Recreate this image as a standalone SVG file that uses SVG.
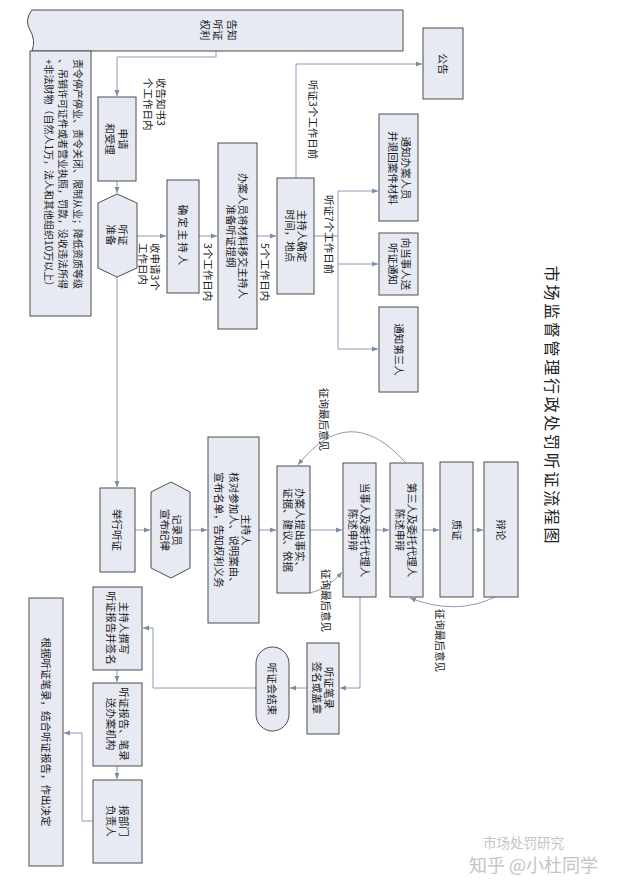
<svg xmlns="http://www.w3.org/2000/svg" width="620" height="890" viewBox="0 0 620 890">
<defs>
<marker id="ah" markerUnits="userSpaceOnUse" markerWidth="6" markerHeight="6" refX="6" refY="3" orient="auto">
<path d="M0,0.5 L6,3 L0,5.5 z" fill="#7d8ca8"/>
</marker>
<style>
.b{fill:#e7eaf3;stroke:#4d4d4d;stroke-width:1}
.t{font-family:"Noto Sans CJK SC","Liberation Sans",sans-serif;font-size:10.5px;fill:#1c1c1c;text-anchor:middle;dominant-baseline:central}
.l{font-family:"Noto Sans CJK SC","Liberation Sans",sans-serif;font-size:10.5px;fill:#1c1c1c;text-anchor:start;dominant-baseline:central}
.c{fill:none;stroke:#8b9ab4;stroke-width:1}
.a{marker-end:url(#ah)}
</style>
</defs>
<rect width="620" height="890" fill="#ffffff"/>
<g transform="translate(620,0) rotate(90)">
<text x="406" y="67" style="font-family:'Noto Sans CJK SC',sans-serif;font-size:16px;letter-spacing:2.7px;fill:#222;text-anchor:middle;dominant-baseline:central">市场监督管理行政处罚听证流程图</text>

<g id="connectors">
<path class="c a" d="M51,404 H57 V503 H96"/>
<path class="c a" d="M181,503 H193"/>
<path class="c a" d="M236,483 V454"/>
<path class="c a" d="M236,421 V403"/>
<path class="c a" d="M236,363 V344"/>
<path class="c a" d="M178,324 H64 V198"/>
<path class="c" d="M236,306 V282 M191,282 H349"/>
<path class="c a" d="M191,282 V242"/>
<path class="c a" d="M264,282 V242"/>
<path class="c a" d="M349,282 V242"/>
<path class="c a" d="M277,503 H487"/>
<path class="c a" d="M530,485 V470"/>
<path class="c a" d="M530,430 V413"/>
<path class="c a" d="M530,361 V344"/>
<path class="c a" d="M530,310 V278"/>
<path class="c a" d="M530,244 V231"/>
<path class="c a" d="M530,197 V181"/>
<path class="c a" d="M530,147 V137"/>
<path class="c a" d="M462,215 Q400,271 465,322"/>
<path class="c a" d="M593,310 Q589,292 572,278"/>
<path class="c a" d="M597,125 Q616,164 598,210"/>
<path class="c a" d="M597,260 H688 V280"/>
<path class="c a" d="M688,313 V330"/>
<path class="c a" d="M688,364 V467 H628 V477"/>
<path class="c a" d="M670,503 H682"/>
<path class="c a" d="M766,503 H779"/>
<path class="c a" d="M821,527 V538 H733 V556"/>
<text class="l" x="78" y="459">收告知书3</text>
<text class="l" x="78" y="472">个工作日内</text>
<text class="l" x="243" y="465">收申请3个</text>
<text class="l" x="243" y="477">工作日内</text>
<text class="l" x="243" y="412">3个工作日内</text>
<text class="l" x="243" y="355">5个工作日内</text>
<text class="l" x="80" y="307">听证3个工作日前</text>
<text class="l" x="195" y="291">听证7个工作日前</text>
<text class="l" x="388" y="296">征询最后意见</text>
<text class="l" x="569" y="294">征询最后意见</text>
<text class="l" x="609" y="180">征询最后意见</text>
</g>

<g id="n_gaozhi">
<path class="b" d="M10,217 H51 V588 Q40,584 30,590 Q20,596 10,588 Z"/>
<text class="t" x="30" y="388">告知</text>
<text class="t" x="30" y="402">听证</text>
<text class="t" x="30" y="415">权利</text>
</g>
<g id="n_penalty">
<rect class="b" x="51" y="529" width="265" height="61"/>
<text class="l" x="59" y="542" style="font-size:10px">责令停产停业、责令关闭、限制从业；降低资质等级</text>
<text class="l" x="59" y="557" style="font-size:10px">、吊销许可证件或者营业执照，罚款，没收违法所得</text>
<text class="l" x="59" y="571" style="font-size:10px">+非法财物（自然人1万，法人和其他组织10万以上）</text>
</g>
<g id="n_shenqing">
<rect class="b" x="97" y="484" width="84" height="38"/>
<text class="t" x="139" y="497">申请</text>
<text class="t" x="139" y="510">和受理</text>
</g>
<g id="n_zhunbei">
<polygon class="b" points="194,503 203,483 268,483 277,503 268,522 203,522"/>
<text class="t" x="235" y="497">听证</text>
<text class="t" x="235" y="509">准备</text>
</g>
<g id="n_queding">
<rect class="b" x="180" y="421" width="113" height="32"/>
<text class="t" x="236" y="437" style="letter-spacing:2px">确定主持人</text>
</g>
<g id="n_banan">
<rect class="b" x="143" y="363" width="186" height="39"/>
<text class="t" x="236" y="377">办案人员将材料移交主持人</text>
<text class="t" x="236" y="389">准备听证提纲</text>
</g>
<g id="n_shijian">
<rect class="b" x="178" y="306" width="116" height="37"/>
<text class="t" x="236" y="318">主持人确定</text>
<text class="t" x="236" y="330">时间，地点</text>
</g>
<g id="n_gonggao">
<rect class="b" x="28" y="157" width="71" height="40"/>
<text class="t" x="64" y="177">公告</text>
</g>
<g id="n_tongzhi_banan">
<rect class="b" x="114" y="202" width="107" height="39"/>
<text class="t" x="168" y="214">通知办案人员</text>
<text class="t" x="168" y="227">并退回案件材料</text>
</g>
<g id="n_dangshiren_tongzhi">
<rect class="b" x="233" y="202" width="62" height="39"/>
<text class="t" x="264" y="214">向当事人送</text>
<text class="t" x="264" y="227">听证通知</text>
</g>
<g id="n_disanren_tongzhi">
<rect class="b" x="307" y="202" width="85" height="39"/>
<text class="t" x="349.5" y="221">通知第三人</text>
</g>
<g id="n_juxing">
<rect class="b" x="488" y="485" width="84" height="35"/>
<text class="t" x="530" y="503">举行听证</text>
</g>
<g id="n_jiluyuan">
<polygon class="b" points="482,449 492,430 568,430 578,449 568,469 492,469"/>
<text class="t" x="530" y="443">记录员</text>
<text class="t" x="530" y="455">宣布纪律</text>
</g>
<g id="n_zhuchiren">
<rect class="b" x="437" y="361" width="186" height="51"/>
<text class="t" x="530" y="374">主持人</text>
<text class="t" x="530" y="386">核对参加人、说明案由、</text>
<text class="t" x="530" y="401">宣布名单，告知权利义务</text>
</g>
<g id="n_tichu">
<rect class="b" x="466" y="310" width="127" height="33"/>
<text class="t" x="530" y="320">办案人提出事实、</text>
<text class="t" x="530" y="332">证据、建议、依据</text>
</g>
<g id="n_dangshiren">
<rect class="b" x="463" y="244" width="134" height="33"/>
<text class="t" x="530" y="255">当事人及委托代理人</text>
<text class="t" x="530" y="267">陈述申辩</text>
</g>
<g id="n_disanren">
<rect class="b" x="463" y="197" width="134" height="33"/>
<text class="t" x="530" y="208">第三人及委托代理人</text>
<text class="t" x="530" y="220">陈述申辩</text>
</g>
<g id="n_zhizheng">
<rect class="b" x="462" y="147" width="135" height="33"/>
<text class="t" x="530" y="163">质证</text>
</g>
<g id="n_bianlun">
<rect class="b" x="462" y="102" width="135" height="34"/>
<text class="t" x="530" y="119">辩论</text>
</g>
<g id="n_bilu">
<rect class="b" x="643" y="281" width="91" height="32"/>
<text class="t" x="688" y="291">听证笔录</text>
<text class="t" x="688" y="303">签名或盖章</text>
</g>
<g id="n_jieshu">
<rect class="b" x="647" y="331" width="84" height="33" rx="16.5" ry="16.5"/>
<text class="t" x="689" y="347.5">听证会结束</text>
</g>
<g id="n_zhuanxie">
<rect class="b" x="587" y="478" width="83" height="49"/>
<text class="t" x="628" y="496">主持人撰写</text>
<text class="t" x="628" y="509">听证报告并签名</text>
</g>
<g id="n_song">
<rect class="b" x="683" y="478" width="83" height="49"/>
<text class="t" x="724" y="496">听证报告、笔录</text>
<text class="t" x="724" y="509">送办案机构</text>
</g>
<g id="n_bao">
<rect class="b" x="780" y="478" width="83" height="49"/>
<text class="t" x="821" y="496">报部门</text>
<text class="t" x="821" y="509">负责人</text>
</g>
<g id="n_jueding">
<rect class="b" x="598" y="557" width="268" height="34"/>
<text class="t" x="732" y="574">根据听证笔录，结合听证报告，作出决定</text>
</g>
</g>
<g id="watermark" style="font-family:'Noto Sans CJK SC',sans-serif;fill:#c4c4c4">
<text x="483" y="848" style="font-size:13.5px">市场处罚研究</text>
<text x="469" y="872" style="font-size:18px">知乎 @小杜同学</text>
</g>
</svg>
